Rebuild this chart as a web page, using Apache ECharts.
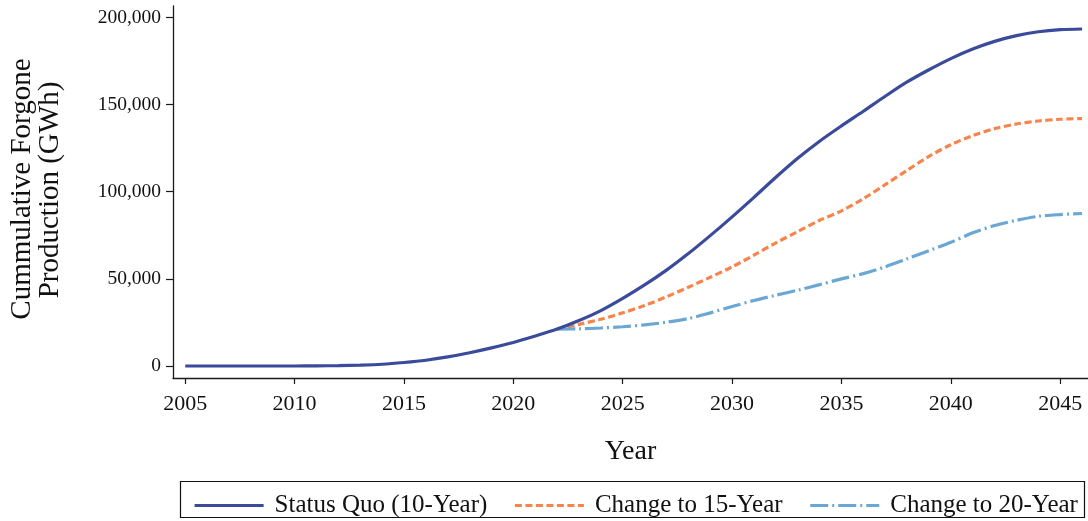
<!DOCTYPE html>
<html>
<head>
<meta charset="utf-8">
<script src="https://cdn.jsdelivr.net/npm/echarts@6/dist/echarts.min.js"></script>
<style>
  html, body { margin: 0; padding: 0; background: #fff; }
  #chart { width: 1088px; height: 521px; }
</style>
</head>
<body>
<div id="chart"></div>
<script>
// Years covered by the projection
const years = [
  2005, 2006, 2007, 2008, 2009, 2010, 2011, 2012, 2013, 2014,
  2015, 2016, 2017, 2018, 2019, 2020, 2021, 2022, 2023, 2024,
  2025, 2026, 2027, 2028, 2029, 2030, 2031, 2032, 2033, 2034,
  2035, 2036, 2037, 2038, 2039, 2040, 2041, 2042, 2043, 2044,
  2045, 2046
];

// Cumulative forgone production (GWh), status quo 10-year schedule
const statusQuo = [
  0, 0, 0, 0, 0, 0, 100, 200, 500, 1000,
  2000, 3300, 5200, 7600, 10400, 13500, 17200, 21200, 26100, 31800,
  38800, 46500, 55000, 64500, 74800, 85600, 96800, 108300, 119200, 129000,
  137800, 146200, 154800, 163000, 170000, 176400, 181900, 186300, 189600, 191800,
  193000, 193400
];

// Alternative schedules start in 2022
const altYears = [
  2022, 2023, 2024, 2025, 2026, 2027, 2028, 2029, 2030, 2031,
  2032, 2033, 2034, 2035, 2036, 2037, 2038, 2039, 2040, 2041,
  2042, 2043, 2044, 2045, 2046
];
const change15 = [
  21200, 23900, 26800, 30500, 34700, 39700, 45200, 50900, 56900, 63600,
  70700, 77100, 83600, 89000, 96000, 104100, 112300, 120300, 127000, 132200,
  136200, 138900, 140600, 141600, 142000
];
const change20 = [
  21200, 21300, 21800, 22500, 23600, 25100, 27200, 30500, 34100, 37600,
  40600, 43500, 46700, 50000, 53000, 56900, 61500, 66200, 71000, 76400,
  80600, 83600, 85900, 86900, 87500
];

// Axis ticks
const xTicks = [2005, 2010, 2015, 2020, 2025, 2030, 2035, 2040, 2045];
const yTicks = [0, 50000, 100000, 150000, 200000];

const seriesNames = ['Status Quo (10-Year)', 'Change to 15-Year', 'Change to 20-Year'];

const pairs = (xs, ys) => xs.map((x, i) => [x, ys[i]]);
const FONT = '"Liberation Serif", "DejaVu Serif", serif';
const AXIS_COLOR = '#1a1a1a';

const chart = echarts.init(document.getElementById('chart'), null, { renderer: 'canvas' });

chart.setOption({
  animation: false,
  backgroundColor: '#ffffff',
  grid: { left: 173, right: 0, top: 6, bottom: 143, containLabel: false },
  xAxis: {
    type: 'value',
    min: 2004.44,
    max: 2046.27,
    axisLine: { show: true, onZero: false, lineStyle: { color: AXIS_COLOR, width: 1.3 } },
    axisTick: { show: true, length: 6, customValues: xTicks, lineStyle: { color: AXIS_COLOR, width: 1.2 } },
    axisLabel: {
      customValues: xTicks,
      margin: 15,
      formatter: v => String(v),
      fontFamily: FONT, fontSize: 22, color: '#111'
    },
    splitLine: { show: false },
    name: 'Year',
    nameLocation: 'middle',
    nameGap: 60,
    nameTextStyle: { fontFamily: FONT, fontSize: 28, color: '#111' }
  },
  yAxis: {
    type: 'value',
    min: -6900,
    max: 206600,
    axisLine: { show: true, onZero: false, lineStyle: { color: AXIS_COLOR, width: 1.3 } },
    axisTick: { show: true, length: 7, customValues: yTicks, lineStyle: { color: AXIS_COLOR, width: 1.2 } },
    axisLabel: {
      customValues: yTicks,
      margin: 12,
      formatter: v => v.toLocaleString('en-US'),
      fontFamily: FONT, fontSize: 19.5, color: '#111'
    },
    splitLine: { show: false }
  },
  legend: {
    data: seriesNames,
    left: 188,
    top: 488,
    itemWidth: 69,
    itemHeight: 22,
    itemGap: 26,
    itemStyle: { opacity: 0 },
    lineStyle: { width: 3.2 },
    textStyle: { fontFamily: FONT, fontSize: 25, color: '#111', padding: [0, 0, 0, 6] }
  },
  graphic: [
    {
      type: 'rect',
      shape: { x: 180.5, y: 481.5, width: 904, height: 36 },
      style: { fill: 'none', stroke: '#111', lineWidth: 1.2 },
      silent: true
    },
    {
      type: 'text',
      x: 22, y: 189,
      rotation: Math.PI / 2,
      style: {
        text: 'Cummulative Forgone',
        fontFamily: FONT, fontSize: 29, fill: '#111',
        align: 'center', verticalAlign: 'middle'
      }
    },
    {
      type: 'text',
      x: 50, y: 190,
      rotation: Math.PI / 2,
      style: {
        text: 'Production (GWh)',
        fontFamily: FONT, fontSize: 29, fill: '#111',
        align: 'center', verticalAlign: 'middle'
      }
    }
  ],
  series: [
    {
      name: seriesNames[0],
      type: 'line',
      data: pairs(years, statusQuo),
      symbol: 'none',
      smooth: 0.3,
      z: 3,
      lineStyle: { color: '#3a4b9b', width: 3.2, cap: 'butt' },
      itemStyle: { color: '#3a4b9b' }
    },
    {
      name: seriesNames[1],
      type: 'line',
      data: pairs(altYears, change15),
      symbol: 'none',
      smooth: 0.3,
      z: 2,
      lineStyle: { color: '#f8844c', width: 3.2, type: [7, 3.5], cap: 'butt' },
      itemStyle: { color: '#f8844c' }
    },
    {
      name: seriesNames[2],
      type: 'line',
      data: pairs(altYears, change20),
      symbol: 'none',
      smooth: 0.3,
      z: 2,
      lineStyle: { color: '#6aa7d4', width: 3.2, type: [18, 4, 2, 4], cap: 'butt' },
      itemStyle: { color: '#6aa7d4' }
    }
  ]
});
</script>
</body>
</html>
